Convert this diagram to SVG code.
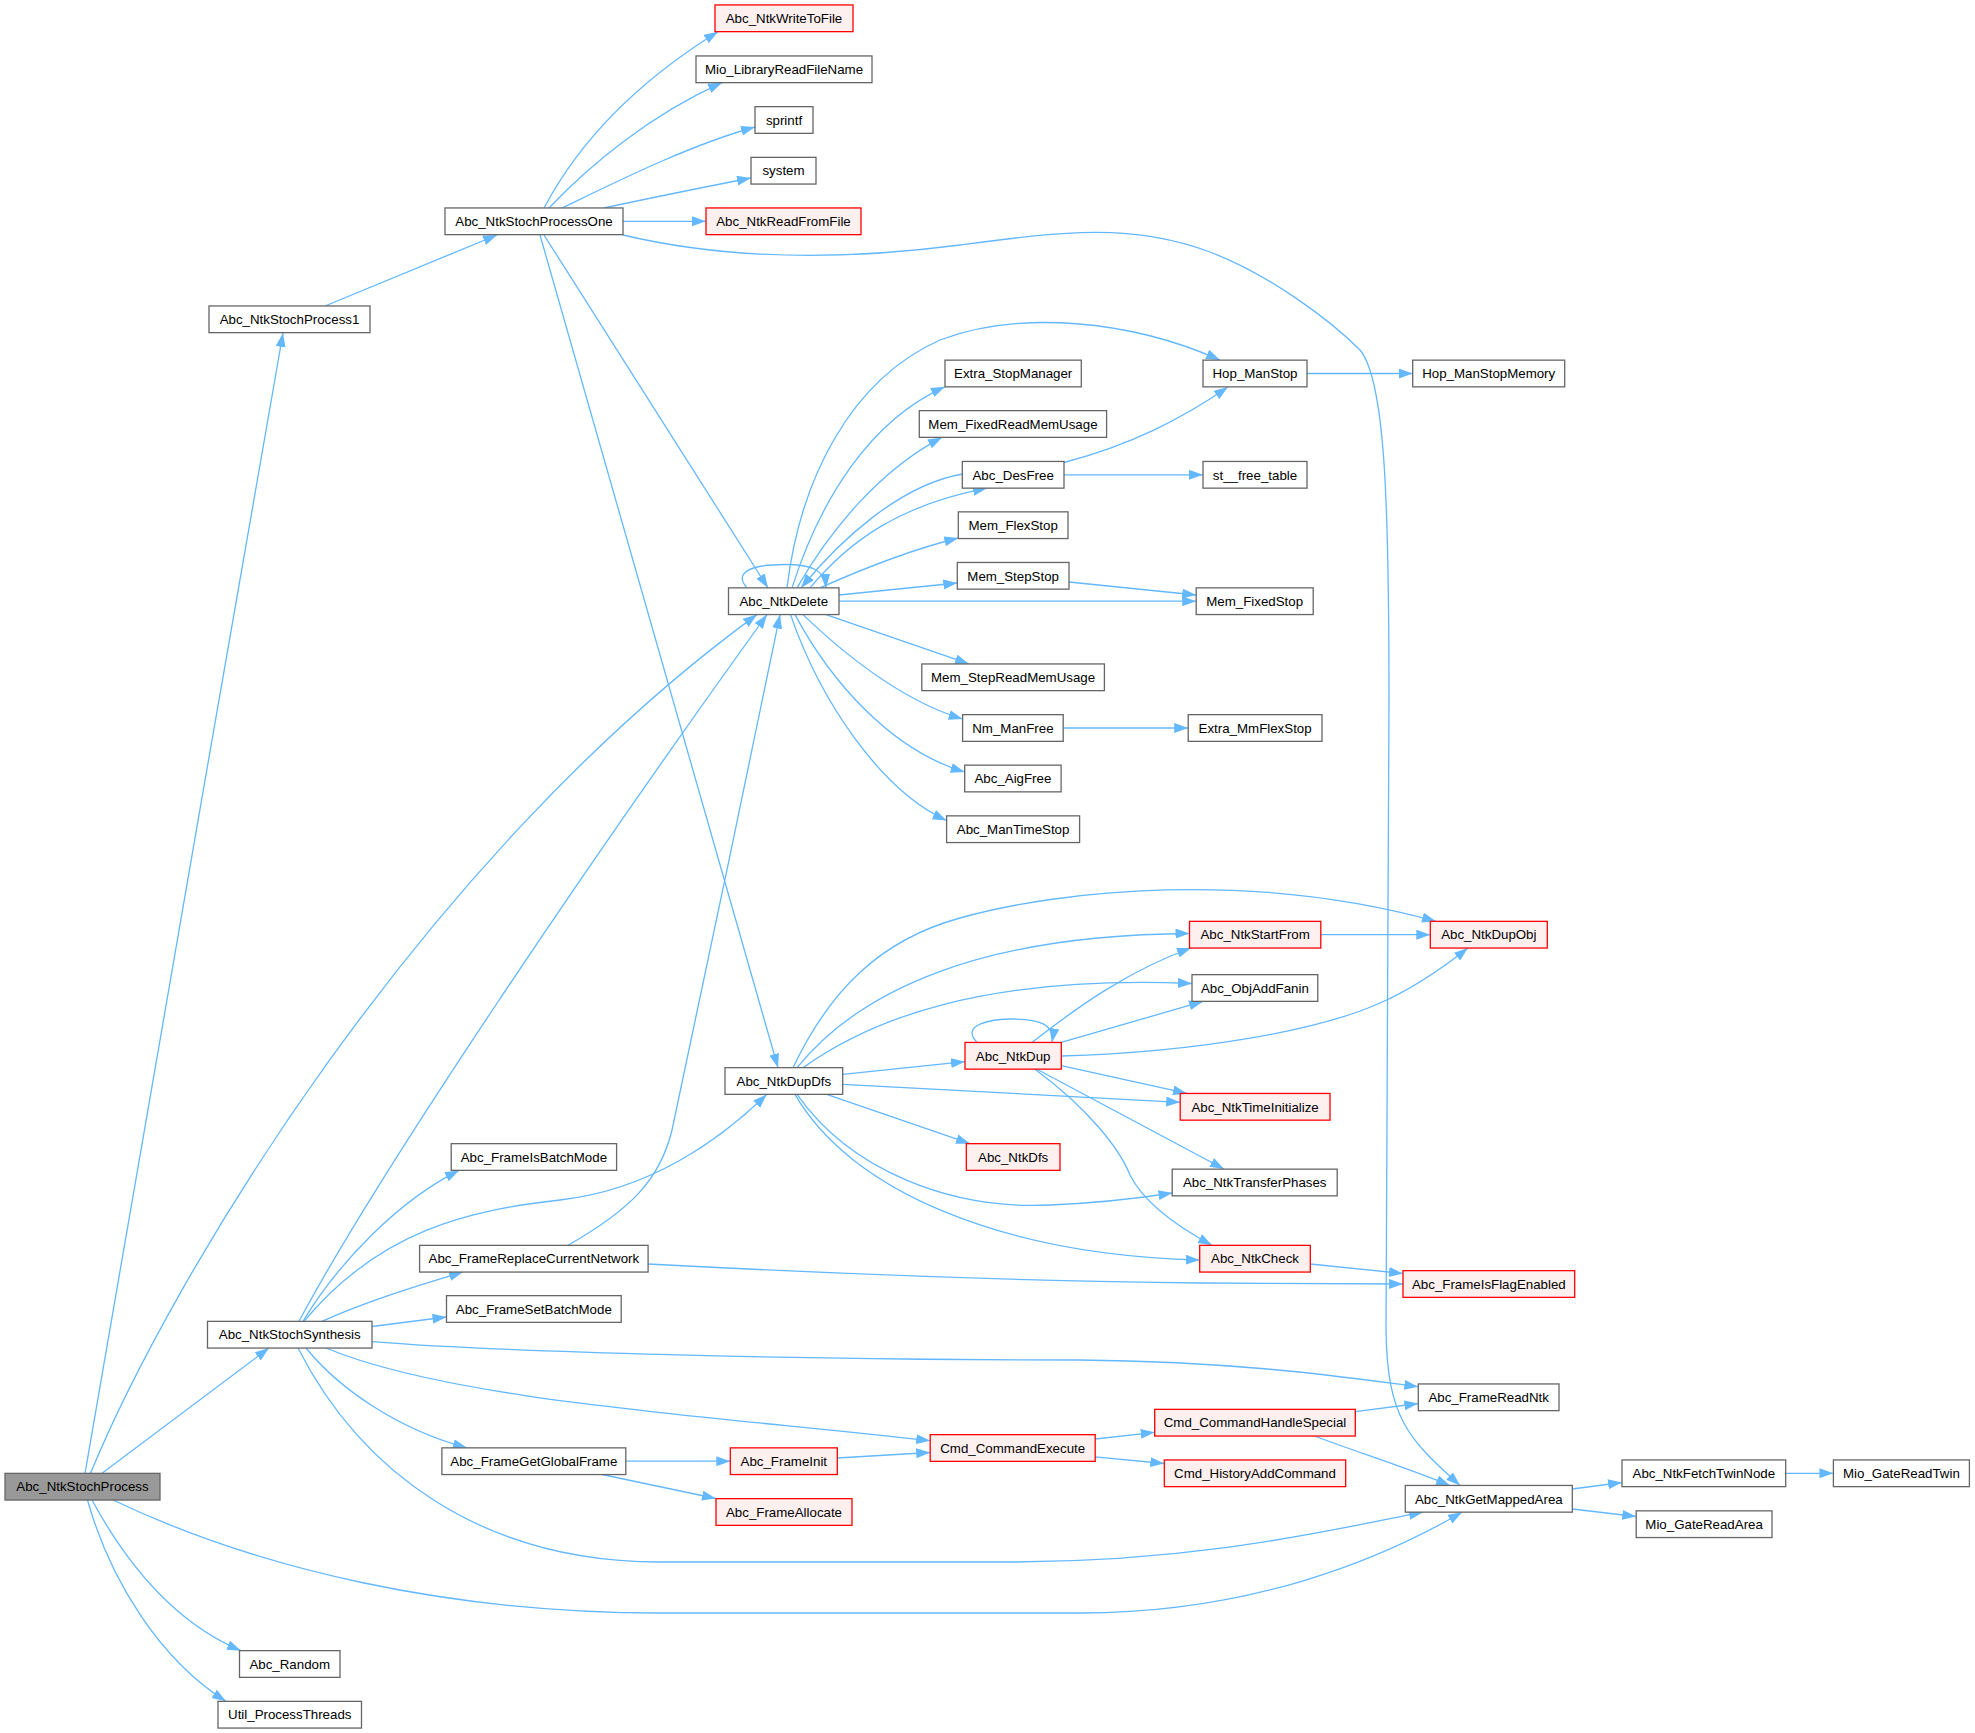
<svg xmlns="http://www.w3.org/2000/svg" width="1975" height="1733" viewBox="0 0 1975 1733">
<style>
.n rect{fill:#ffffff;stroke:#666666;stroke-width:1.3}
.r rect{fill:#FFF0F0;stroke:#FF0000;stroke-width:1.3}
.root rect{fill:#999999;stroke:#666666;stroke-width:1.3}
text{font-family:"Liberation Sans",Arial,sans-serif;font-size:13.3px;text-anchor:middle;fill:#000000}
#edges path{fill:none;stroke:#63B8FF;stroke-width:1.3;marker-end:url(#a)}
</style>
<defs>
<marker id="a" markerUnits="userSpaceOnUse" markerWidth="15" markerHeight="11" refX="14" refY="5" orient="auto"><path d="M0,0 L14,5 L0,10 z" fill="#63B8FF" stroke="none"/></marker>
</defs>
<rect width="1975" height="1733" fill="#ffffff"/>
<g id="edges">
<path d="M85,1473.3 C130,1200 220,700 283,333"/>
<path d="M325,306 L497,235"/>
<path d="M90.5,1473.3 C170,1280 420,860 757,614.6"/>
<path d="M102,1473.3 L269,1348"/>
<path d="M113,1500 C260,1570 450,1613 660,1613 L1081,1613 C1250,1613 1380,1560 1462,1512.2"/>
<path d="M298,1348 C360,1470 480,1562 660,1562 L1010,1562 C1200,1562 1330,1530 1423,1512.2"/>
<path d="M92,1500 C130,1570 180,1625 241,1650.7"/>
<path d="M87.5,1500 C110,1580 160,1660 226,1701.3"/>
<path d="M544,208 C580,140 640,80 718,31.7"/>
<path d="M549,208 C590,165 650,115 722,82.7"/>
<path d="M562,208 C620,180 690,145 755,127"/>
<path d="M604,208 C650,198 700,188 751,178"/>
<path d="M623,221.3 L706,221.3"/>
<path d="M623,235 C720,258 830,262 960,245 C1060,232 1130,222 1210,252 C1270,275 1330,320 1360,350 C1385,380 1389,500 1389,700 L1386,1330 C1387,1420 1410,1440 1460,1485.5"/>
<path d="M544,235 L768,587.9"/>
<path d="M540,235 L778,1067.7"/>
<path d="M787,587.9 C800,480 850,380 940,340 C1020,310 1130,320 1220,360"/>
<path d="M792,587.9 C820,500 870,420 945,386.8"/>
<path d="M797,587.9 C830,530 880,470 942,437.4"/>
<path d="M962.3,474 C900,485 840,540 801,587.9"/>
<path d="M810,587.9 C850,540 900,505 987,488.2"/>
<path d="M820,587.9 C860,570 910,550 958.3,538"/>
<path d="M747,587.9 C735,575 745,564.5 785,564.5 C812,564.5 825,570 826,587.9"/>
<path d="M839,595 L957.3,583"/>
<path d="M839,601.2 L1196.2,601.2"/>
<path d="M1069,582 L1196.2,595"/>
<path d="M826,614.6 L969,663.9"/>
<path d="M803,614.6 C840,650 900,700 962.6,719"/>
<path d="M795,614.6 C830,680 890,750 964.7,772"/>
<path d="M790.5,614.6 C820,700 880,790 946.6,820.5"/>
<path d="M1064,462.5 C1130,445 1180,420 1228,387"/>
<path d="M1064,474.8 L1203,474.8"/>
<path d="M1307,373.5 L1412.7,373.5"/>
<path d="M1063.2,728 L1188.2,728"/>
<path d="M299,1321.3 C380,1170 590,860 767,614.6"/>
<path d="M303,1321.3 C340,1260 400,1200 459,1170.4"/>
<path d="M304,1321.3 C380,1230 470,1210 560,1200 C650,1190 720,1140 766.7,1094.4"/>
<path d="M322,1321.3 C370,1300 420,1285 463,1272"/>
<path d="M372,1326.5 L446.5,1317"/>
<path d="M372,1341.6 C500,1352 800,1360 1080,1360 C1250,1362 1350,1378 1418.3,1386.7"/>
<path d="M326,1348 C450,1400 700,1415 930.2,1440.7"/>
<path d="M306,1348 C340,1390 400,1430 467,1447.8"/>
<path d="M568,1245.3 C630,1210 660,1180 672,1130 C700,1000 750,760 780,614.6"/>
<path d="M648,1264 C800,1272 1000,1281 1200,1283 L1403,1284"/>
<path d="M1310.3,1264 L1403,1273.5"/>
<path d="M625.8,1461.2 L730.3,1461.2"/>
<path d="M602,1474.5 L716,1498.5"/>
<path d="M837.2,1458 L930.2,1452.5"/>
<path d="M1095.2,1439 L1154.7,1432.3"/>
<path d="M1095.2,1456.8 L1164.3,1463.5"/>
<path d="M1355.3,1411.7 L1418.3,1403.5"/>
<path d="M1315,1436 C1350,1450 1400,1465 1450,1485.5"/>
<path d="M1572.3,1489 L1622,1482.5"/>
<path d="M1572.3,1509 L1636.2,1516.5"/>
<path d="M1785.7,1473.3 L1833.4,1473.3"/>
<path d="M793,1067.7 C830,990 880,940 960,918 C1060,890 1250,870 1436,921.3"/>
<path d="M797,1067.7 C860,990 980,935 1189.5,933.5"/>
<path d="M803,1067.7 C870,1020 980,975 1192,983.5"/>
<path d="M842.7,1074.3 L965,1061.7"/>
<path d="M842.7,1084.3 L1180.2,1102.3"/>
<path d="M826.7,1094.4 L970,1143.7"/>
<path d="M797,1094.4 C850,1170 950,1210 1050,1205 C1100,1203 1140,1198 1172.5,1193"/>
<path d="M795,1094.4 C850,1190 1000,1255 1199.7,1260"/>
<path d="M977,1042.4 C960,1025 990,1019 1013,1019 C1040,1019 1055,1025 1052,1042.4"/>
<path d="M1032,1042.4 C1080,1005 1130,970 1191,948"/>
<path d="M1061.3,1042.4 L1203,1001.4"/>
<path d="M1061.3,1056 C1200,1052 1320,1030 1380,1003 C1410,990 1440,970 1468,948"/>
<path d="M1061.3,1065.7 L1187,1093.4"/>
<path d="M1037,1069.2 L1224,1169"/>
<path d="M1035,1069.2 C1090,1110 1120,1150 1130,1175 C1145,1205 1180,1228 1212,1245.3"/>
<path d="M1320.8,934.7 L1430.3,934.7"/>
</g>
<g id="n1" class="root"><rect x="5" y="1473.35" width="155" height="26.7"/><text x="82.5" y="1491.4">Abc_NtkStochProcess</text></g>
<g id="n2" class="n"><rect x="209" y="305.95" width="161" height="26.7"/><text x="289.5" y="324">Abc_NtkStochProcess1</text></g>
<g id="n3" class="n"><rect x="445" y="207.95" width="178" height="26.7"/><text x="534" y="226">Abc_NtkStochProcessOne</text></g>
<g id="n4" class="r"><rect x="715" y="4.95" width="138" height="26.7"/><text x="784" y="23">Abc_NtkWriteToFile</text></g>
<g id="n5" class="n"><rect x="696" y="55.95" width="176" height="26.7"/><text x="784" y="74">Mio_LibraryReadFileName</text></g>
<g id="n6" class="n"><rect x="755" y="106.65" width="58" height="26.7"/><text x="784" y="124.7">sprintf</text></g>
<g id="n7" class="n"><rect x="751" y="157.35" width="65" height="26.7"/><text x="783.5" y="175.4">system</text></g>
<g id="n8" class="r"><rect x="706" y="207.95" width="155" height="26.7"/><text x="783.5" y="226">Abc_NtkReadFromFile</text></g>
<g id="n9" class="n"><rect x="1405.3" y="1485.45" width="167" height="26.7"/><text x="1488.8" y="1503.5">Abc_NtkGetMappedArea</text></g>
<g id="n10" class="n"><rect x="728.5" y="587.85" width="110.5" height="26.7"/><text x="783.75" y="605.9">Abc_NtkDelete</text></g>
<g id="n11" class="n"><rect x="725" y="1067.65" width="117.7" height="26.7"/><text x="783.85" y="1085.7">Abc_NtkDupDfs</text></g>
<g id="n12" class="n"><rect x="1203" y="360.15" width="104" height="26.7"/><text x="1255" y="378.2">Hop_ManStop</text></g>
<g id="n13" class="n"><rect x="945" y="360.15" width="136.3" height="26.7"/><text x="1013.15" y="378.2">Extra_StopManager</text></g>
<g id="n14" class="n"><rect x="919.3" y="410.65" width="187.3" height="26.7"/><text x="1012.95" y="428.7">Mem_FixedReadMemUsage</text></g>
<g id="n15" class="n"><rect x="962.3" y="461.45" width="101.7" height="26.7"/><text x="1013.15" y="479.5">Abc_DesFree</text></g>
<g id="n16" class="n"><rect x="958.3" y="511.85" width="109.7" height="26.7"/><text x="1013.15" y="529.9">Mem_FlexStop</text></g>
<g id="n17" class="n"><rect x="957.3" y="562.45" width="111.7" height="26.7"/><text x="1013.15" y="580.5">Mem_StepStop</text></g>
<g id="n18" class="n"><rect x="1196.2" y="587.85" width="117" height="26.7"/><text x="1254.7" y="605.9">Mem_FixedStop</text></g>
<g id="n19" class="n"><rect x="921.8" y="663.95" width="182.6" height="26.7"/><text x="1013.1" y="682">Mem_StepReadMemUsage</text></g>
<g id="n20" class="n"><rect x="962.6" y="714.65" width="100.6" height="26.7"/><text x="1012.9" y="732.7">Nm_ManFree</text></g>
<g id="n21" class="n"><rect x="964.7" y="765.15" width="96.4" height="26.7"/><text x="1012.9" y="783.2">Abc_AigFree</text></g>
<g id="n22" class="n"><rect x="946.6" y="815.85" width="133" height="26.7"/><text x="1013.1" y="833.9">Abc_ManTimeStop</text></g>
<g id="n23" class="n"><rect x="1412.7" y="360.15" width="152" height="26.7"/><text x="1488.7" y="378.2">Hop_ManStopMemory</text></g>
<g id="n24" class="n"><rect x="1203" y="461.45" width="104" height="26.7"/><text x="1255" y="479.5">st__free_table</text></g>
<g id="n25" class="n"><rect x="1188.2" y="714.65" width="133.8" height="26.7"/><text x="1255.1" y="732.7">Extra_MmFlexStop</text></g>
<g id="n26" class="r"><rect x="1430.3" y="921.35" width="117" height="26.7"/><text x="1488.8" y="939.4">Abc_NtkDupObj</text></g>
<g id="n27" class="r"><rect x="1189.5" y="921.35" width="131.3" height="26.7"/><text x="1255.15" y="939.4">Abc_NtkStartFrom</text></g>
<g id="n28" class="n"><rect x="1192" y="974.65" width="125.8" height="26.7"/><text x="1254.9" y="992.7">Abc_ObjAddFanin</text></g>
<g id="n29" class="r"><rect x="965" y="1042.45" width="96.3" height="26.7"/><text x="1013.15" y="1060.5">Abc_NtkDup</text></g>
<g id="n30" class="r"><rect x="1180.2" y="1093.45" width="149.8" height="26.7"/><text x="1255.1" y="1111.5">Abc_NtkTimeInitialize</text></g>
<g id="n31" class="r"><rect x="966.3" y="1143.65" width="93.7" height="26.7"/><text x="1013.15" y="1161.7">Abc_NtkDfs</text></g>
<g id="n32" class="n"><rect x="1172.2" y="1169.15" width="165" height="26.7"/><text x="1254.7" y="1187.2">Abc_NtkTransferPhases</text></g>
<g id="n33" class="r"><rect x="1199.7" y="1245.35" width="110.6" height="26.7"/><text x="1255" y="1263.4">Abc_NtkCheck</text></g>
<g id="n34" class="r"><rect x="1403" y="1270.65" width="171.7" height="26.7"/><text x="1488.85" y="1288.7">Abc_FrameIsFlagEnabled</text></g>
<g id="n35" class="n"><rect x="207.5" y="1321.35" width="164.5" height="26.7"/><text x="289.75" y="1339.4">Abc_NtkStochSynthesis</text></g>
<g id="n36" class="n"><rect x="451.2" y="1143.65" width="165.4" height="26.7"/><text x="533.9" y="1161.7">Abc_FrameIsBatchMode</text></g>
<g id="n37" class="n"><rect x="419.6" y="1245.35" width="228.5" height="26.7"/><text x="533.85" y="1263.4">Abc_FrameReplaceCurrentNetwork</text></g>
<g id="n38" class="n"><rect x="446.5" y="1295.65" width="174.7" height="26.7"/><text x="533.85" y="1313.7">Abc_FrameSetBatchMode</text></g>
<g id="n39" class="n"><rect x="1418.3" y="1383.95" width="140.7" height="26.7"/><text x="1488.65" y="1402">Abc_FrameReadNtk</text></g>
<g id="n40" class="r"><rect x="930.2" y="1434.65" width="165" height="26.7"/><text x="1012.7" y="1452.7">Cmd_CommandExecute</text></g>
<g id="n41" class="n"><rect x="441.9" y="1447.85" width="183.9" height="26.7"/><text x="533.85" y="1465.9">Abc_FrameGetGlobalFrame</text></g>
<g id="n42" class="r"><rect x="730.3" y="1447.85" width="107" height="26.7"/><text x="783.8" y="1465.9">Abc_FrameInit</text></g>
<g id="n43" class="r"><rect x="716" y="1498.65" width="136" height="26.7"/><text x="784" y="1516.7">Abc_FrameAllocate</text></g>
<g id="n44" class="r"><rect x="1154.7" y="1409.35" width="200.6" height="26.7"/><text x="1255" y="1427.4">Cmd_CommandHandleSpecial</text></g>
<g id="n45" class="r"><rect x="1164.3" y="1459.95" width="181.4" height="26.7"/><text x="1255" y="1478">Cmd_HistoryAddCommand</text></g>
<g id="n46" class="n"><rect x="1622" y="1459.95" width="163.7" height="26.7"/><text x="1703.85" y="1478">Abc_NtkFetchTwinNode</text></g>
<g id="n47" class="n"><rect x="1833.4" y="1459.95" width="136" height="26.7"/><text x="1901.4" y="1478">Mio_GateReadTwin</text></g>
<g id="n48" class="n"><rect x="1636.2" y="1510.85" width="135.8" height="26.7"/><text x="1704.1" y="1528.9">Mio_GateReadArea</text></g>
<g id="n49" class="n"><rect x="239.5" y="1650.65" width="100.5" height="26.7"/><text x="289.75" y="1668.7">Abc_Random</text></g>
<g id="n50" class="n"><rect x="218" y="1701.35" width="143.5" height="26.7"/><text x="289.75" y="1719.4">Util_ProcessThreads</text></g>
</svg>
